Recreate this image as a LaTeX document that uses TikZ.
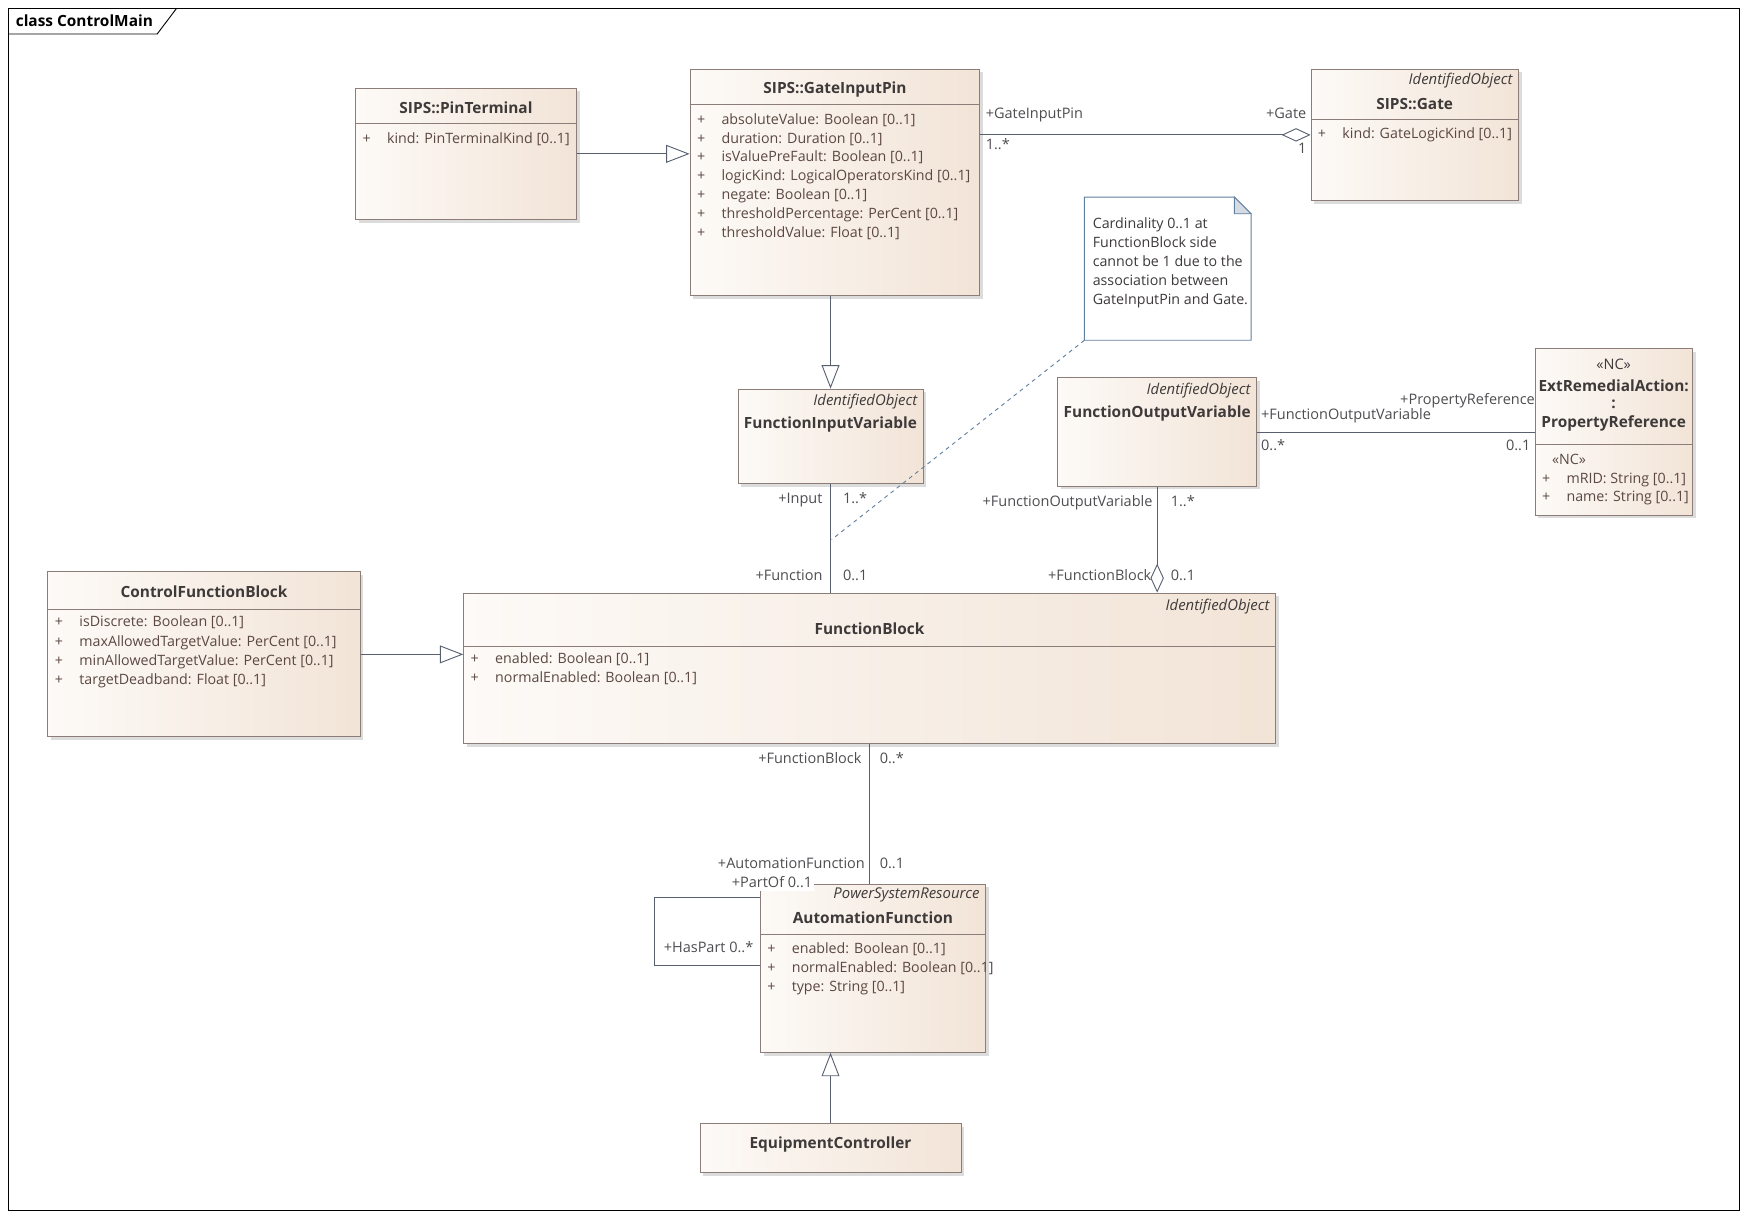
\documentclass[tikz,border=0pt]{standalone}
\usepackage{fontspec}
\setmainfont{Open Sans}
\usetikzlibrary{arrows.meta,fit,shadows}

\definecolor{boxline}{RGB}{140,125,120}
\definecolor{boxleft}{RGB}{253,250,247}
\definecolor{boxright}{RGB}{242,228,215}
\definecolor{conline}{RGB}{88,96,112}
\definecolor{titletext}{RGB}{62,58,58}
\definecolor{attrtext}{RGB}{92,72,66}
\definecolor{lbltext}{RGB}{78,78,82}
\definecolor{noteline}{RGB}{98,128,160}
\definecolor{notefold}{RGB}{212,219,228}

\newcommand{\attplus}{\makebox[6.6mm][l]{+}}

\begin{document}
\begin{tikzpicture}[x=0.3mm, y=-0.3mm,
  cls/.style={draw=boxline, line width=0.7pt, left color=boxleft, right color=boxright, inner sep=0pt,
    drop shadow={shadow xshift=0.9mm, shadow yshift=-0.9mm, fill=black!45, opacity=0.3}},
  ttl/.style={font=\bfseries\fontsize{11.8}{14}\selectfont, text=titletext, inner sep=0pt},
  ster/.style={font=\itshape\fontsize{11.4}{14}\selectfont, text=titletext, inner sep=0pt, anchor=east},
  attr/.style={font=\fontsize{10.9}{14}\selectfont, text=attrtext, inner sep=0pt, anchor=west, text height=8pt, text depth=2.4pt},
  lbl/.style={font=\fontsize{11.1}{14}\selectfont, text=lbltext, inner sep=0pt, text height=8pt, text depth=2.4pt},
  sep/.style={draw=boxline, line width=0.7pt},
  con/.style={draw=conline, line width=0.7pt},
  gen/.style={con, -{Triangle[fill=white, length=6.3mm, width=4.8mm]}},
  agg/.style={con, -{Diamond[fill=white, length=7.8mm, width=3.6mm]}}]

  % Frame
  \useasboundingbox[fill=white] (0,0) rectangle (1568,1094);
  \draw[line width=0.7pt] (8,8) rectangle (1560,1086);
  \draw[line width=0.7pt] (8,30.5) -- (141,30.5) -- (158,8);
  \node[font=\bfseries\fontsize{11.8}{14}\selectfont, anchor=west, inner sep=0pt] (diagname) at (14,19) {class ControlMain};

  % PinTerminal
  \node[cls, fit={(319,79) (517,197)}] (pint) {};
  \node[ttl] (pintname) at (pint.north |- 0,97) {SIPS::PinTerminal};
  \draw[sep] (pint.west |- 0,111) -- (pint.east |- 0,111);
  \node[attr] (pint1) at (325,125) {\attplus kind: PinTerminalKind [0..1]};

  % GateInputPin
  \node[cls, fit={(619,62) (879,265)}] (gip) {};
  \node[ttl] (gipname) at (gip.north |- 0,80) {SIPS::GateInputPin};
  \draw[sep] (gip.west |- 0,94) -- (gip.east |- 0,94);
  \foreach \t [count=\i] in {absoluteValue: Boolean [0..1], duration: Duration [0..1],
      isValuePreFault: Boolean [0..1], logicKind: LogicalOperatorsKind [0..1],
      negate: Boolean [0..1], thresholdPercentage: PerCent [0..1], thresholdValue: Float [0..1]}
    \node[attr] (gip\i) at (625,{108+17*(\i-1)}) {\attplus \t};

  % Gate
  \node[cls, fit={(1176,62) (1362,180)}] (gate) {};
  \node[ster] (gateup) at (1357,72) {IdentifiedObject};
  \node[ttl] (gatename) at (gate.north |- 0,93) {SIPS::Gate};
  \draw[sep] (gate.west |- 0,107) -- (gate.east |- 0,107);
  \node[attr] (gate1) at (1182,121) {\attplus kind: GateLogicKind [0..1]};

  % Note
  \node[fit={(973,177) (1122,305)}, inner sep=0pt] (note) {};
  \draw[draw=noteline, fill=white, line width=0.7pt] (note.south west) -- (note.north west)
    -- ([xshift=-4.5mm]note.north east) -- ([yshift=-4.5mm]note.north east) -- (note.south east) -- cycle;
  \draw[draw=noteline, fill=notefold, line width=0.7pt] ([xshift=-4.5mm]note.north east)
    -- ([xshift=-4.5mm, yshift=-4.5mm]note.north east) -- ([yshift=-4.5mm]note.north east) -- cycle;
  \foreach \t [count=\i] in {Cardinality 0..1 at, FunctionBlock side, cannot be 1 due to the,
      association between, GateInputPin and Gate.}
    \node[attr, text=titletext] (note\i) at (980,{202+17*(\i-1)}) {\t};

  % FunctionInputVariable
  \node[cls, fit={(662,349) (828,434)}] (fiv) {};
  \node[ster] (fivup) at (823,360) {IdentifiedObject};
  \node[ttl] (fivname) at (fiv.north |- 0,381) {FunctionInputVariable};

  % FunctionOutputVariable
  \node[cls, fit={(949,339) (1127,436)}] (fov) {};
  \node[ster] (fovup) at (1122,350) {IdentifiedObject};
  \node[ttl] (fovname) at (fov.north |- 0,371) {FunctionOutputVariable};

  % PropertyReference
  \node[cls, fit={(1377,313) (1518,462)}] (pref) {};
  \node[lbl, text=titletext] (prefup) at (pref.north |- 0,328) {«NC»};
  \node[ttl] (prefname1) at (pref.north |- 0,346) {ExtRemedialAction:};
  \node[ttl] (prefname2) at (pref.north |- 0,363) {:};
  \node[ttl] (prefname3) at (pref.north |- 0,380) {PropertyReference};
  \draw[sep] (pref.west |- 0,399) -- (pref.east |- 0,399);
  \node[attr] (prefnc) at (1392,413) {«NC»};
  \node[attr] (pref1) at (1383,430) {\attplus mRID: String [0..1]};
  \node[attr] (pref2) at (1383,447) {\attplus name: String [0..1]};

  % ControlFunctionBlock
  \node[cls, fit={(43,513) (323,661)}] (cfb) {};
  \node[ttl] (cfbname) at (cfb.north |- 0,531) {ControlFunctionBlock};
  \draw[sep] (cfb.west |- 0,547) -- (cfb.east |- 0,547);
  \foreach \t [count=\i] in {isDiscrete: Boolean [0..1], maxAllowedTargetValue: PerCent [0..1],
      minAllowedTargetValue: PerCent [0..1], targetDeadband: Float [0..1]}
    \node[attr] (cfb\i) at (49,{559+17.3*(\i-1)}) {\attplus \t};

  % FunctionBlock
  \node[cls, fit={(416,532) (1144,667)}] (fb) {};
  \node[ster] (fbup) at (1139,544) {IdentifiedObject};
  \node[ttl] (fbname) at (fb.north |- 0,564) {FunctionBlock};
  \draw[sep] (fb.west |- 0,580) -- (fb.east |- 0,580);
  \node[attr] (fb1) at (422,592) {\attplus enabled: Boolean [0..1]};
  \node[attr] (fb2) at (422,609) {\attplus normalEnabled: Boolean [0..1]};

  % AutomationFunction
  \node[cls, fit={(682,793) (884,944)}] (af) {};
  \node[ster] (afup) at (879,803) {PowerSystemResource};
  \node[ttl] (afname) at (af.north |- 0,823) {AutomationFunction};
  \draw[sep] (af.west |- 0,838) -- (af.east |- 0,838);
  \node[attr] (af1) at (688,852) {\attplus enabled: Boolean [0..1]};
  \node[attr] (af2) at (688,869) {\attplus normalEnabled: Boolean [0..1]};
  \node[attr] (af3) at (688,886) {\attplus type: String [0..1]};

  % EquipmentController
  \node[cls, fit={(628,1008) (862,1052)}] (ec) {};
  \node[ttl] (ecname) at (ec.center |- 0,1027) {EquipmentController};

  % Generalizations
  \draw[gen] (pint.east) -- (pint.east -| gip.west);
  \draw[gen] (fiv.north |- gip.south) -- (fiv.north);
  \draw[gen] (cfb.east) -- (cfb.east -| fb.west);
  \draw[gen] (ec.north) -- (ec.north |- af.south);

  % GateInputPin - Gate
  \draw[agg] (gip.east |- gate.west) -- (gate.west);
  \node[lbl, anchor=west] (gipend) at (884,103) {+GateInputPin};
  \node[lbl, anchor=west] (gipmul) at (884,131) {1..*};
  \node[lbl, anchor=east] (gateend) at (1172,103) {+Gate};
  \node[lbl, anchor=east] (gatemul) at (1172,134) {1};

  % FunctionInputVariable - FunctionBlock
  \draw[con] (fiv.south) -- (fiv.south |- fb.north);
  \coordinate (notept) at (746,484);
  \draw[draw=noteline, line width=0.7pt, dash pattern=on 3pt off 3pt] (note.south west) -- (notept);
  \node[lbl, anchor=east] (fivend) at (738,448) {+Input};
  \node[lbl, anchor=west] (fivmul) at (756,448) {1..*};
  \node[lbl, anchor=east] (fbend1) at (738,517) {+Function};
  \node[lbl, anchor=west] (fbmul1) at (756,517) {0..1};

  % FunctionOutputVariable - FunctionBlock
  \draw[agg] (fov.south) -- (fov.south |- fb.north);
  \node[lbl, anchor=east] (fovend) at (1034,451) {+FunctionOutputVariable};
  \node[lbl, anchor=west] (fovmul) at (1050,451) {1..*};
  \node[lbl, anchor=east] (fbend2) at (1033,517) {+FunctionBlock};
  \node[lbl, anchor=west] (fbmul2) at (1050,517) {0..1};

  % FunctionOutputVariable - PropertyReference
  \draw[con] (fov.east) -- (fov.east -| pref.west);
  \node[lbl, anchor=west] (fovend2) at (1131,373) {+FunctionOutputVariable};
  \node[lbl, anchor=west] (fovmul2) at (1131,401) {0..*};
  \node[lbl, anchor=east] (prefend) at (1377,360) {+PropertyReference};
  \node[lbl, anchor=east] (prefmul) at (1373,401) {0..1};

  % FunctionBlock - AutomationFunction
  \draw[con] (fb.south) -- (fb.south |- af.north);
  \node[lbl, anchor=east] (fbend3) at (773,682) {+FunctionBlock};
  \node[lbl, anchor=west] (fbmul3) at (789,682) {0..*};
  \node[lbl, anchor=east] (afend) at (776,776) {+AutomationFunction};
  \node[lbl, anchor=west] (afmul) at (789,776) {0..1};

  % AutomationFunction parts
  \coordinate (loopa) at (587,805);
  \coordinate (loopb) at (587,866);
  \draw[con] (af.west |- loopa) -- (loopa) -- (loopb) -- (af.west |- loopb);
  \node[lbl, anchor=east, fill=white, inner xsep=1pt] (partof) at (730,793) {+PartOf 0..1};
  \node[lbl, anchor=east] (haspart) at (676,851) {+HasPart 0..*};
\end{tikzpicture}
\end{document}
